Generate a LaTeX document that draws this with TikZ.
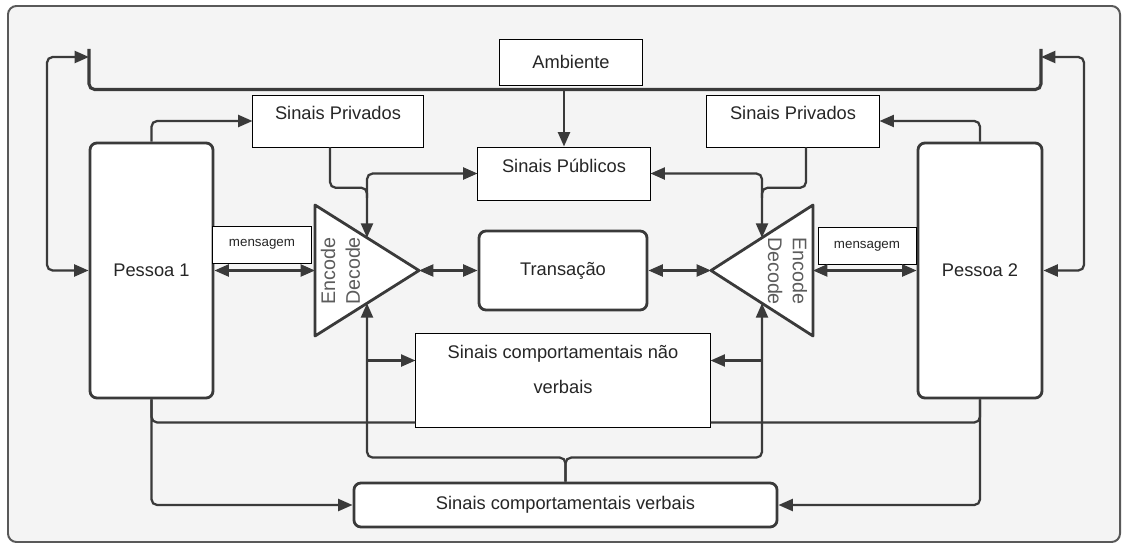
\documentclass[tikz,border=0pt]{standalone}
\usepackage{fontspec}
\setmainfont{Liberation Sans}
\usetikzlibrary{arrows.meta}
\usetikzlibrary{calc}
\definecolor{linegray}{HTML}{3A3A3A}
\definecolor{bggray}{HTML}{F4F4F4}
\definecolor{codegray}{HTML}{5C5C5C}

\begin{document}
\begin{tikzpicture}[x=0.025cm, y=-0.025cm,
    plainbox/.style={draw=black, line width=0.7pt, fill=white, inner sep=2pt, text=black!85, font=\fontsize{13}{15}\selectfont},
    roundbox/.style={draw=linegray, line width=2pt, rounded corners=5pt, fill=white, inner sep=2pt, text=black!85, font=\fontsize{13}{15}\selectfont},
    toptext/.style={text height=10pt, text depth=12pt},
    msgbox/.style={plainbox, font=\fontsize{9.5}{11}\selectfont, minimum width=2.45cm, minimum height=0.925cm},
    tri/.style={draw=linegray, line width=2pt, fill=white, line join=round},
    coder/.style={font=\fontsize{14}{17.7}\selectfont, text=codegray, align=center, inner sep=0pt},
    link/.style={draw=linegray, line width=1.6pt, rounded corners=4pt},
    arr/.style={link, -{Triangle[length=3.6mm, width=3mm]}},
    dbl/.style={link, {Triangle[length=3.6mm, width=3mm]}-{Triangle[length=3.6mm, width=3mm]}}]

      \useasboundingbox (0,0) rectangle (1123,545);
      \draw[draw=black!65, line width=1.4pt, fill=bggray, rounded corners=6pt] (8,6) rectangle (1120,542);

      \node[plainbox, minimum width=3.55cm, minimum height=1.15cm] (amb) at (571,62) {Ambiente};
      \node[plainbox, toptext, minimum width=4.25cm, minimum height=1.3cm] (sp1) at (338,121) {Sinais Privados};
      \node[plainbox, toptext, minimum width=4.3cm, minimum height=1.3cm] (sp2) at (793,121) {Sinais Privados};
      \node[plainbox, toptext, minimum width=4.3cm, minimum height=1.325cm] (spub) at (564,173.5) {Sinais Públicos};
      \node[roundbox, minimum width=3.075cm, minimum height=6.375cm] (p1) at (151.5,270.5) {Pessoa 1};
      \node[roundbox, minimum width=3.1cm, minimum height=6.375cm] (p2) at (980,270.5) {Pessoa 2};
      \node[msgbox] (msg1) at (262,244.5) {mensagem};
      \node[msgbox] (msg2) at (867,246) {mensagem};
      \node[roundbox, minimum width=4.2cm, minimum height=1.975cm] (tr) at (563,270.5) {Transação};
      \node[plainbox, align=center, text height=35pt, text depth=17pt, minimum width=7.35cm, minimum height=2.325cm] (nv) at (563,380.5) {Sinais comportamentais não\\[10pt]verbais};
      \node[roundbox, minimum width=10.575cm, minimum height=1.1cm] (vb) at (565.5,505) {Sinais comportamentais verbais};

      \coordinate (e1a) at (315,205);
      \coordinate (e1b) at (315,336);
      \coordinate (e1c) at (419,270.5);
      \coordinate (e2a) at (813,205);
      \coordinate (e2b) at (813,336);
      \coordinate (e2c) at (711,270.5);
      \draw[tri] (e1a) -- (e1c) -- (e1b) -- cycle;
      \draw[tri] (e2a) -- (e2c) -- (e2b) -- cycle;
      \node[coder, rotate=90] (enc1) at (340.5,271) {Encode\\Decode};
      \node[coder, rotate=-90] (enc2) at (787.5,271) {Encode\\Decode};

      \coordinate (e1in) at ($(e1a)!0.5!(e1c)$);
      \coordinate (e1out) at ($(e1b)!0.5!(e1c)$);
      \coordinate (e2in) at ($(e2a)!0.5!(e2c)$);
      \coordinate (e2out) at ($(e2b)!0.5!(e2c)$);
      \coordinate (barl) at (89,49);
      \coordinate (barr) at (1041,49);

      \draw[link, line width=2.2pt] (barl) |- ($(amb.south)+(0,4)$) -| (barr);
      \draw[arr] ($(spub.north |- amb.south)+(0,4)$) -- (spub.north);
      \draw[dbl] ($(barl)+(0,8)$) -- ++(-42,0) |- (p1.west);
      \draw[dbl] ($(barr)+(0,8)$) -- ++(43,0) |- (p2.east);

      \draw[arr] (p1.north) |- (sp1.west);
      \draw[arr] (p2.north) |- (sp2.east);
      \draw[link] ($(sp1.south)+(-8,0)$) |- ($(e1in)+(0,-50)$) -- ($(e1in)+(0,-40)$);
      \draw[link] ($(sp2.south)+(13,0)$) |- ($(e2in)+(0,-50)$) -- ($(e2in)+(0,-40)$);
      \draw[dbl] (spub.west) -| (e1in);
      \draw[dbl] (spub.east) -| (e2in);

      \draw[dbl] (p1.east) -- (p1.east -| e1a);
      \draw[dbl] (p2.west) -- (p2.west -| e2a);
      \draw[dbl] (e1c) -- (tr.west);
      \draw[dbl] (tr.east) -- (e2c);

      \draw[arr] (vb.north) -- ++(0,-24) -| (e1out);
      \draw[arr] (vb.north) -- ++(0,-24) -| (e2out);
      \draw[arr] ($(e1out |- nv.west)+(0,-20)$) -- ($(nv.west)+(0,-20)$);
      \draw[arr] ($(e2out |- nv.east)+(0,-20)$) -- ($(nv.east)+(0,-20)$);
      \draw[link] (p1.south) |- ($(nv.west)+(0,42)$);
      \draw[link] (p2.south) |- ($(nv.east)+(0,42)$);
      \draw[arr] (p1.south) |- (vb.west);
      \draw[arr] (p2.south) |- (vb.east);
    \end{tikzpicture}
\end{document}
